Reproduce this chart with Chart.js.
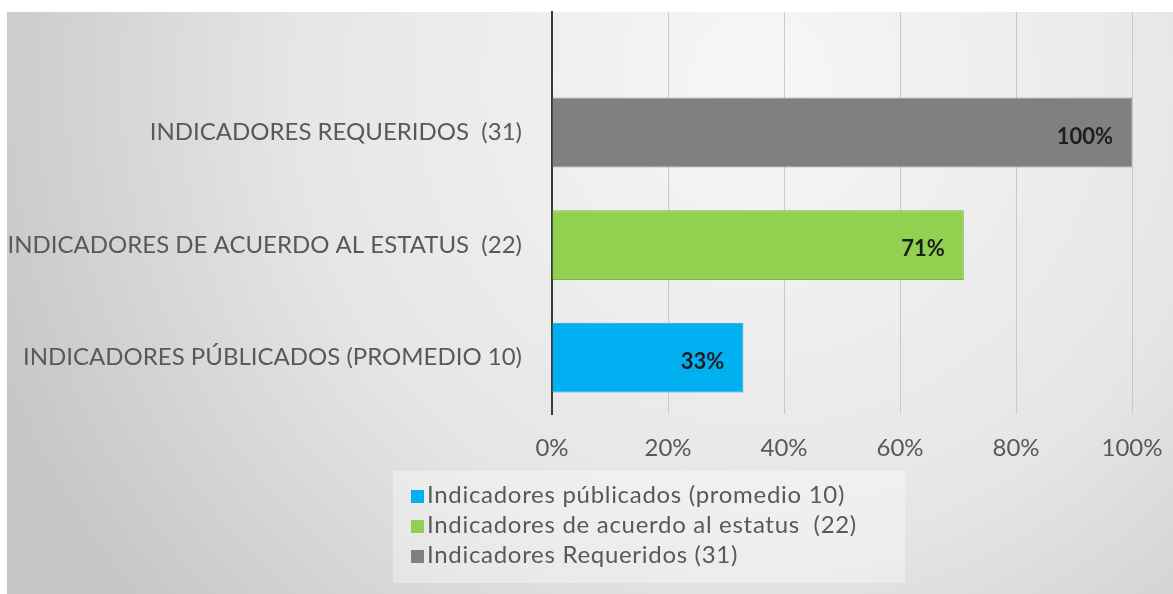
<!DOCTYPE html>
<html>
<head>
<meta charset="utf-8">
<script src="https://cdn.jsdelivr.net/npm/chart.js@4"></script>
<style>
  html, body { margin: 0; padding: 0; background: #fff; }
  #wrap { position: relative; width: 1173px; height: 594px; }
  #legend {
    position: absolute; left: 393px; top: 471px; width: 512px; height: 112px;
    background: rgba(255,255,255,0.35); box-sizing: border-box; padding: 8px 0 0 18px;
    font-family: Lato, "Open Sans", sans-serif; font-size: 24px; letter-spacing: 0.7px; color: #595959;
  }
  #legend div { height: 30px; line-height: 30px; white-space: pre; }
  #legend span { display: inline-block; width: 13px; height: 13px; margin-right: 3px; vertical-align: 0px; }
</style>
</head>
<body>
<div id="wrap">
  <canvas id="chart" width="1173" height="594"></canvas>
  <div id="legend"></div>
</div>
<script>
// categories bottom -> top
const categories = ['INDICADORES PÚBLICADOS (PROMEDIO 10)', 'INDICADORES DE ACUERDO AL ESTATUS  (22)', 'INDICADORES REQUERIDOS  (31)'];
const seriesNames = ['Indicadores públicados (promedio 10)', 'Indicadores de acuerdo al estatus  (22)', 'Indicadores Requeridos (31)'];
const values = [33, 71, 100];
const xTicks = [0, 20, 40, 60, 80, 100];
const barColors = ['#00B0F0', '#92D050', '#808080'];
const borderColors = ['#2a9fd0', '#7fb545', '#9a9a9a'];

// background gradient behind the chart
const bgPlugin = {
  id: 'bg',
  beforeDraw(chart) {
    const ctx = chart.ctx;
    ctx.save();
    ctx.fillStyle = '#fff';
    ctx.fillRect(0, 0, chart.width, chart.height);
    const g = ctx.createRadialGradient(760, 80, 20, 760, 80, 820);
    g.addColorStop(0, '#f6f6f6');
    g.addColorStop(0.55, '#e6e6e6');
    g.addColorStop(1, '#c6c6c6');
    ctx.fillStyle = g;
    ctx.fillRect(7, 12, chart.width - 7, chart.height - 12);
    ctx.restore();
  }
};

// value labels inside the bar ends
const valueLabels = {
  id: 'valueLabels',
  afterDatasetsDraw(chart) {
    const ctx = chart.ctx;
    ctx.save();
    ctx.font = 'bold 22px Lato, "Open Sans", sans-serif';
    ctx.fillStyle = '#1e1e1e';
    ctx.textAlign = 'right';
    ctx.textBaseline = 'middle';
    chart.data.datasets.forEach((ds, i) => {
      chart.getDatasetMeta(i).data.forEach((bar, j) => {
        ctx.fillText(ds.data[j].x + '%', bar.x - 19, bar.y + 4);
      });
    });
    ctx.restore();
  }
};

const datasets = seriesNames.map((name, i) => ({
  label: name,
  data: [{ x: values[i], y: i }],
  backgroundColor: barColors[i],
  borderColor: borderColors[i],
  borderWidth: 1,
  grouped: false,
  barPercentage: 0.62,
  categoryPercentage: 1
}));

const chart = new Chart(document.getElementById('chart'), {
  type: 'bar',
  data: { datasets: datasets },
  options: {
    indexAxis: 'y',
    responsive: false,
    animation: false,
    layout: { padding: { top: 12, right: 41, left: 0, bottom: 0 } },
    plugins: { legend: { display: false }, tooltip: { enabled: false } },
    scales: {
      x: {
        type: 'linear', min: 0, max: 100,
        afterBuildTicks: s => { s.ticks = xTicks.map(v => ({ value: v })); },
        afterFit: s => { s.height = 180; s.paddingLeft = 0; s.paddingRight = 0; },
        grid: { color: '#c9c9c9', lineWidth: 1, drawTicks: false },
        border: { display: false },
        ticks: { padding: 20, color: '#595959', font: { family: 'Lato', size: 24 }, callback: v => v + '%' }
      },
      y: {
        type: 'linear', min: -0.5, max: 3.07, offset: false,
        afterBuildTicks: s => { s.ticks = categories.map((c, i) => ({ value: i })); },
        afterFit: s => { s.width = 552; s.paddingTop = 0; s.paddingBottom = 0; },
        grid: { display: false, drawTicks: false, offset: false },
        border: { display: true, color: '#3a3a3a', width: 2 },
        ticks: { padding: 30, color: '#595959', font: { family: 'Lato', size: 24 }, callback: v => categories[v] }
      }
    }
  },
  plugins: [bgPlugin, valueLabels]
});

// legend list, one item per line
const legend = document.getElementById('legend');
seriesNames.forEach((name, i) => {
  const row = document.createElement('div');
  const box = document.createElement('span');
  box.style.background = barColors[i];
  row.appendChild(box);
  row.appendChild(document.createTextNode(name));
  legend.appendChild(row);
});
</script>
</body>
</html>
